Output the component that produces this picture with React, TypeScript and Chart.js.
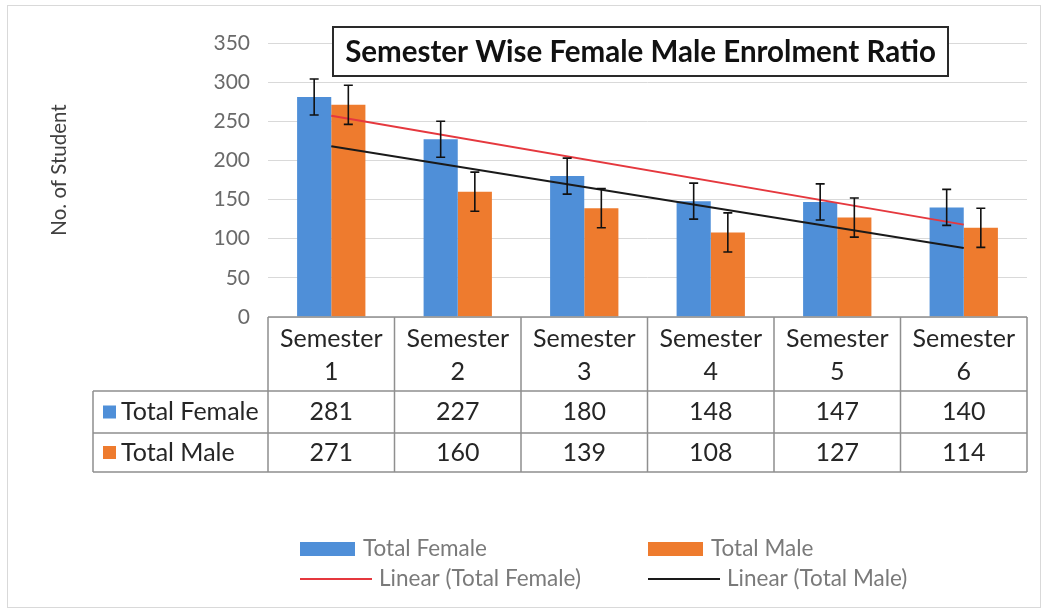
import React, { useEffect, useRef } from "react";
import { Chart, registerables } from "chart.js";

Chart.register(...registerables);

const categories = ["Semester 1", "Semester 2", "Semester 3", "Semester 4", "Semester 5", "Semester 6"];
const seriesNames = ["Total Female", "Total Male"];
const trendNames = ["Linear (Total Female)", "Linear (Total Male)"];
const femaleValues = [281, 227, 180, 148, 147, 140];
const maleValues = [271, 160, 139, 108, 127, 114];
const femaleError = [23, 23, 23, 23, 23, 23];
const maleError = [25, 25, 25, 25, 25, 25];
// trendline values read at Semester 1 and Semester 6
const femaleTrendEnds = [257, 118];
const maleTrendEnds = [218, 88];
const yTicks = [0, 50, 100, 150, 200, 250, 300, 350];
const chartTitle = "Semester Wise Female Male Enrolment Ratio";
const yAxisTitle = "No. of Student";

const BLUE = "#4F8FD8";
const ORANGE = "#EE7B2E";
const RED = "#E5383E";
const BLACK = "#1a1a1a";
const FONT = "Lato";

const decorPlugin = {
  id: "decor",
  beforeDraw(chart: any) {
    const { ctx, width, height } = chart;
    ctx.save();
    ctx.fillStyle = "#ffffff";
    ctx.fillRect(0, 0, width, height);
    ctx.strokeStyle = "#d9d9d9";
    ctx.lineWidth = 1;
    ctx.strokeRect(7.5, 5.5, 1033, 602);
    ctx.restore();
  },
  afterDatasetsDraw(chart: any) {
    const { ctx } = chart;
    const y = chart.scales.y;
    const errs = [femaleError, maleError];
    const vals = [femaleValues, maleValues];
    ctx.save();
    ctx.strokeStyle = "#111111";
    ctx.lineWidth = 1.6;
    for (let d = 0; d < 2; d++) {
      const meta = chart.getDatasetMeta(d);
      meta.data.forEach((el: any, i: number) => {
        const x = el.x;
        const top = y.getPixelForValue(vals[d][i] + errs[d][i]);
        const bot = y.getPixelForValue(vals[d][i] - errs[d][i]);
        ctx.beginPath();
        ctx.moveTo(x, top);
        ctx.lineTo(x, bot);
        ctx.moveTo(x - 4.5, top);
        ctx.lineTo(x + 4.5, top);
        ctx.moveTo(x - 4.5, bot);
        ctx.lineTo(x + 4.5, bot);
        ctx.stroke();
      });
    }
    ctx.restore();
  },
  afterDraw(chart: any) {
    const { ctx, chartArea } = chart;
    const L = chartArea.left;
    const R = chartArea.right;
    const n = categories.length;
    const colW = (R - L) / n;
    ctx.save();

    // Title box
    ctx.fillStyle = "#ffffff";
    ctx.fillRect(333, 27, 615, 49);
    ctx.strokeStyle = "#2a2a2a";
    ctx.lineWidth = 2;
    ctx.strokeRect(333, 27, 615, 49);
    ctx.fillStyle = "#111111";
    ctx.font = `bold 29.5px ${FONT}`;
    ctx.textAlign = "center";
    ctx.textBaseline = "middle";
    ctx.fillText(chartTitle, 640.5, 52);

    // Y axis title
    ctx.save();
    ctx.translate(59, 170);
    ctx.rotate(-Math.PI / 2);
    ctx.font = `20.5px ${FONT}`;
    ctx.fillStyle = "#404040";
    ctx.fillText(yAxisTitle, 0, 0);
    ctx.restore();

    // Data table
    const tableLeft = 93;
    const yHead = chartArea.bottom;
    const yRow1 = 391;
    const yRow2 = 433;
    const yBottom = 472;
    ctx.strokeStyle = "#8f8f8f";
    ctx.lineWidth = 1.5;
    ctx.beginPath();
    ctx.moveTo(L, yHead);
    ctx.lineTo(R, yHead);
    [yRow1, yRow2, yBottom].forEach((yy) => {
      ctx.moveTo(tableLeft, yy);
      ctx.lineTo(R, yy);
    });
    for (let i = 0; i <= n; i++) {
      const xx = L + i * colW;
      ctx.moveTo(xx, yHead);
      ctx.lineTo(xx, yBottom);
    }
    ctx.moveTo(tableLeft, yRow1);
    ctx.lineTo(tableLeft, yBottom);
    ctx.stroke();

    ctx.fillStyle = "#262626";
    ctx.font = `25px ${FONT}`;
    ctx.textAlign = "center";
    ctx.textBaseline = "middle";
    categories.forEach((c, i) => {
      const cx = L + (i + 0.5) * colW;
      const parts = c.split(" ");
      ctx.fillText(parts[0], cx, 339);
      ctx.fillText(parts[1], cx, 372);
      ctx.fillText(String(femaleValues[i]), cx, (yRow1 + yRow2) / 2);
      ctx.fillText(String(maleValues[i]), cx, (yRow2 + yBottom) / 2);
    });
    const rowCenters = [(yRow1 + yRow2) / 2, (yRow2 + yBottom) / 2];
    const colors = [BLUE, ORANGE];
    ctx.textAlign = "left";
    seriesNames.forEach((s, r) => {
      ctx.fillStyle = colors[r];
      ctx.fillRect(103, rowCenters[r] - 6.5, 13, 13);
      ctx.fillStyle = "#262626";
      ctx.fillText(s, 121, rowCenters[r]);
    });

    // Legend
    ctx.font = `22.5px ${FONT}`;
    ctx.textBaseline = "middle";
    const lx = [300, 648];
    const trendColors = [RED, BLACK];
    for (let k = 0; k < 2; k++) {
      ctx.fillStyle = colors[k];
      ctx.fillRect(lx[k], 542, 55, 14);
      ctx.fillStyle = "#7a7a7a";
      ctx.fillText(seriesNames[k], lx[k] + 63, 549);
      ctx.strokeStyle = trendColors[k];
      ctx.lineWidth = 2;
      ctx.beginPath();
      ctx.moveTo(lx[k], 579);
      ctx.lineTo(lx[k] + 72, 579);
      ctx.stroke();
      ctx.fillStyle = "#7a7a7a";
      ctx.fillText(trendNames[k], lx[k] + 79, 579);
    }
    ctx.restore();
  },
};

export default function App() {
  const ref = useRef<HTMLCanvasElement | null>(null);
  useEffect(() => {
    if (!ref.current) return;
    const chart = new Chart(ref.current, {
      type: "bar",
      data: {
        labels: categories,
        datasets: [
          {
            type: "bar",
            label: seriesNames[0],
            data: femaleValues,
            backgroundColor: BLUE,
            order: 2,
            categoryPercentage: 0.54,
            barPercentage: 1,
          },
          {
            type: "bar",
            label: seriesNames[1],
            data: maleValues,
            backgroundColor: ORANGE,
            order: 2,
            categoryPercentage: 0.54,
            barPercentage: 1,
          },
          {
            type: "line",
            label: trendNames[0],
            data: [
              { x: categories[0], y: femaleTrendEnds[0] },
              { x: categories[categories.length - 1], y: femaleTrendEnds[1] },
            ],
            borderColor: RED,
            borderWidth: 2,
            pointRadius: 0,
            order: 1,
          },
          {
            type: "line",
            label: trendNames[1],
            data: [
              { x: categories[0], y: maleTrendEnds[0] },
              { x: categories[categories.length - 1], y: maleTrendEnds[1] },
            ],
            borderColor: BLACK,
            borderWidth: 2,
            pointRadius: 0,
            order: 1,
          },
        ] as any,
      },
      options: {
        responsive: false,
        animation: false,
        layout: { padding: { left: 0, top: 43, right: 22, bottom: 293 } },
        plugins: { legend: { display: false }, tooltip: { enabled: false }, title: { display: false } },
        scales: {
          x: { display: false, offset: true },
          y: {
            min: yTicks[0],
            max: yTicks[yTicks.length - 1],
            ticks: {
              stepSize: yTicks[1] - yTicks[0],
              font: { family: FONT, size: 21 },
              color: "#6a6a6a",
              padding: 18,
            },
            grid: { color: "#d9d9d9", drawTicks: false, lineWidth: 1 },
            border: { display: false },
            afterFit: (scale: any) => {
              scale.width = 268;
            },
          },
        },
      },
      plugins: [decorPlugin],
    });
    return () => chart.destroy();
  }, []);
  return (
    <div style={{ position: "absolute", left: 0, top: 0, width: 1049, height: 610 }}>
      <canvas ref={ref} width={1049} height={610} />
    </div>
  );
}
